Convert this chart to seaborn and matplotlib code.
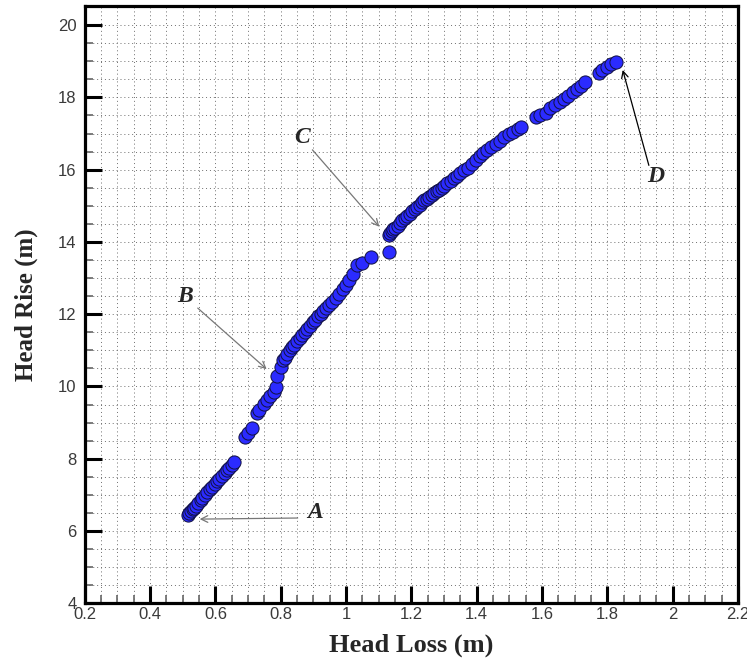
import matplotlib
matplotlib.use("Agg")
import matplotlib.pyplot as plt
from matplotlib.ticker import MultipleLocator
import pandas as pd
import seaborn as sns

# Head loss / head rise points, grouped by branch
loss_ab = [0.515, 0.52, 0.525, 0.53, 0.535, 0.54, 0.548, 0.555, 0.56, 0.568,
           0.575, 0.583, 0.59, 0.598, 0.605, 0.612, 0.62, 0.628, 0.635, 0.642,
           0.65, 0.658, 0.69, 0.70, 0.712, 0.728, 0.735, 0.748, 0.758, 0.768,
           0.778, 0.787, 0.79]
rise_ab = [6.45, 6.5, 6.55, 6.6, 6.65, 6.7, 6.78, 6.85, 6.92, 7.0,
           7.08, 7.15, 7.22, 7.3, 7.38, 7.45, 7.52, 7.6, 7.68, 7.75,
           7.83, 7.92, 8.6, 8.7, 8.85, 9.28, 9.35, 9.52, 9.62, 9.75,
           9.85, 9.98, 10.3]

loss_bc = [0.80, 0.806, 0.812, 0.82, 0.828, 0.835, 0.842, 0.85, 0.858, 0.865,
           0.873, 0.88, 0.89, 0.898, 0.905, 0.915, 0.922, 0.93, 0.94, 0.948,
           0.958, 0.968, 0.978, 0.99, 1.0, 1.01, 1.02, 1.035, 1.05, 1.075,
           1.132]
rise_bc = [10.55, 10.72, 10.8, 10.9, 11.0, 11.08, 11.15, 11.25, 11.35, 11.42,
           11.5, 11.58, 11.68, 11.78, 11.85, 11.95, 12.02, 12.1, 12.18, 12.25,
           12.35, 12.45, 12.55, 12.7, 12.82, 12.95, 13.1, 13.35, 13.42, 13.58,
           13.72]

loss_cd = [1.13, 1.135, 1.14, 1.145, 1.15, 1.158, 1.165, 1.172, 1.18, 1.188,
           1.195, 1.203, 1.21, 1.218, 1.225, 1.233, 1.24, 1.248, 1.255, 1.263,
           1.27, 1.278, 1.285, 1.293, 1.3, 1.31, 1.32, 1.33, 1.34, 1.35,
           1.36, 1.372, 1.385, 1.398, 1.41, 1.42, 1.432, 1.445, 1.458, 1.47,
           1.485, 1.5, 1.512, 1.525, 1.536, 1.58, 1.595, 1.612, 1.625, 1.64,
           1.655, 1.668, 1.68, 1.695, 1.708, 1.72, 1.733, 1.774, 1.785, 1.8,
           1.812, 1.826]
rise_cd = [14.18, 14.25, 14.3, 14.35, 14.4, 14.45, 14.52, 14.6, 14.65, 14.72,
           14.78, 14.85, 14.9, 14.97, 15.03, 15.1, 15.15, 15.2, 15.25, 15.3,
           15.35, 15.4, 15.45, 15.5, 15.55, 15.62, 15.7, 15.77, 15.83, 15.9,
           15.98, 16.05, 16.15, 16.28, 16.38, 16.45, 16.55, 16.62, 16.72, 16.8,
           16.9, 16.98, 17.05, 17.12, 17.18, 17.45, 17.5, 17.56, 17.7, 17.8,
           17.88, 17.95, 18.05, 18.15, 18.22, 18.32, 18.42, 18.68, 18.75, 18.85,
           18.92, 18.98]

# labelled points: label, text position, arrow tail, arrow head
labels = ["A", "B", "C", "D"]
label_xy = [(0.904, 6.5), (0.507, 12.5), (0.864, 16.9), (1.948, 15.8)]
tail_xy = [(0.852, 6.36), (0.546, 12.17), (0.897, 16.55), (1.927, 16.12)]
head_xy = [(0.552, 6.33), (0.757, 10.48), (1.102, 14.42), (1.847, 18.76)]

df = pd.DataFrame({
    "Head Loss (m)": loss_ab + loss_bc + loss_cd,
    "Head Rise (m)": rise_ab + rise_bc + rise_cd,
})

sns.set_theme(style="white")
plt.rcParams["font.family"] = ["Liberation Sans", "DejaVu Sans"]

fig = plt.figure(figsize=(7.47, 6.61), dpi=100)
ax = fig.add_axes([0.1134, 0.0873, 0.8746, 0.9036])

sns.scatterplot(data=df, x="Head Loss (m)", y="Head Rise (m)", ax=ax,
                color="#2b2bff", edgecolor="#101040", linewidth=0.7,
                s=90, marker="o", zorder=3)

ax.set_xlim(0.2, 2.2)
ax.set_ylim(4, 20.53)
ax.xaxis.set_minor_locator(MultipleLocator(0.05))
ax.yaxis.set_minor_locator(MultipleLocator(0.5))
ax.set_xticks([0.2, 0.4, 0.6, 0.8, 1.0, 1.2, 1.4, 1.6, 1.8, 2.0, 2.2])
ax.set_xticklabels(["0.2", "0.4", "0.6", "0.8", "1", "1.2", "1.4", "1.6",
                    "1.8", "2", "2.2"])
ax.set_yticks([4, 6, 8, 10, 12, 14, 16, 18, 20])

ax.grid(True, which="both", color="#6e6e6e", linestyle=(0, (1, 3)),
        linewidth=0.7, zorder=0)
ax.tick_params(which="major", direction="in", length=12, width=2.2,
               color="black", labelsize=12, labelcolor="#3a3a3a", pad=6)
ax.tick_params(which="minor", direction="in", length=6, width=1.2,
               color="#666666")
ax.tick_params(axis="x", which="both", top=False, bottom=True, pad=3)
ax.tick_params(axis="y", which="both", right=False, left=True)
for side in ax.spines.values():
    side.set_linewidth(2.3)
    side.set_color("black")

ax.set_xlabel("Head Loss (m)", family="Liberation Serif", weight="bold",
              size=19, labelpad=8)
ax.set_ylabel("Head Rise (m)", family="Liberation Serif", weight="bold",
              size=18, labelpad=14)

for name, txt, tail, head in zip(labels, label_xy, tail_xy, head_xy):
    arrow_color = "black" if name == "D" else "#777777"
    ax.annotate("", xy=head, xytext=tail,
                arrowprops=dict(arrowstyle="->", color=arrow_color, lw=0.9,
                                shrinkA=0, shrinkB=0), zorder=4)
    ax.text(txt[0], txt[1], name, family="Liberation Serif", weight="bold",
            style="italic", size=17, ha="center", va="center", zorder=5)

fig.savefig("out.png", dpi=100)
